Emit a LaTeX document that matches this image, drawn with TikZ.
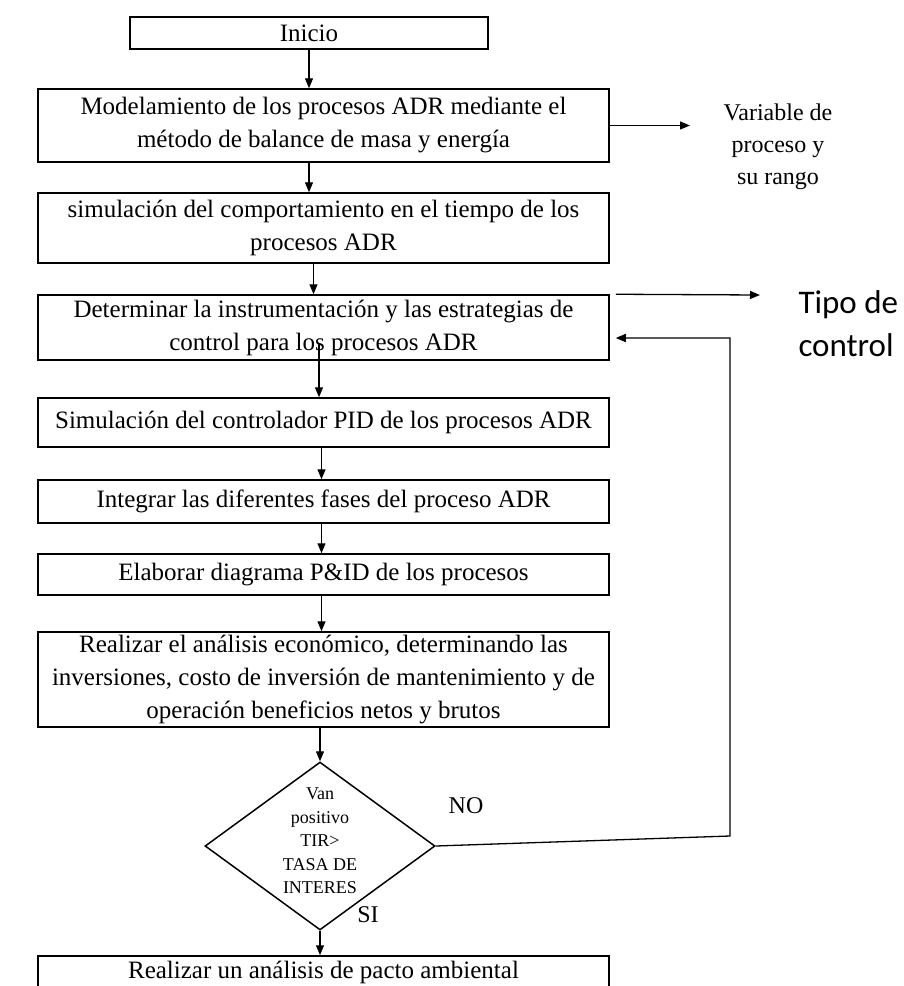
\documentclass[tikz,border=0pt]{standalone}
\usepackage{fontspec}
\setmainfont{Liberation Serif}
\newfontfamily\calibrifont{Carlito}
\usetikzlibrary{arrows.meta,shapes.geometric}

\begin{document}
\begin{tikzpicture}[x=1pt,y=-1pt,
  stepbox/.style={draw, line width=1.5pt, rectangle, inner sep=0pt, align=center,
    minimum width=571pt, font=\fontsize{25}{33}\selectfont},
  arr/.style={line width=1.3pt, -{Triangle[length=10pt,width=8pt]}},
  sidetext/.style={align=center, font=\fontsize{24}{32}\selectfont},
  answer/.style={font=\fontsize{24}{28}\selectfont}
]
\useasboundingbox (0,0) rectangle (903,986);

% main sequence of steps
\node[stepbox, minimum width=358pt, minimum height=32pt] (inicio) at (309,33) {Inicio};
\node[stepbox, minimum height=73pt] (b2) at (323.5,125.5)
  {Modelamiento de los procesos ADR mediante el\\método de balance de masa y energía};
\node[stepbox, minimum height=70pt] (b3) at (323.5,228)
  {simulación del comportamiento en el tiempo de los\\procesos ADR};
\node[stepbox, minimum height=65pt] (b4) at (323.5,327.5)
  {Determinar la instrumentación y las estrategias de\\control para los procesos ADR};
\node[stepbox, minimum height=49pt] (b5) at (323.5,422.5)
  {Simulación del controlador PID de los procesos ADR};
\node[stepbox, minimum height=43pt] (b6) at (323.5,501.5)
  {Integrar las diferentes fases del proceso ADR};
\node[stepbox, minimum height=41pt] (b7) at (323.5,574.5)
  {Elaborar diagrama P\&ID de los procesos};
\node[stepbox, minimum height=95pt] (b8) at (323.5,679.5)
  {Realizar el análisis económico, determinando las\\inversiones, costo de inversión de mantenimiento y de\\operación beneficios netos y brutos};

% decision
\node[diamond, draw, line width=1.5pt, minimum width=230pt, minimum height=168pt, inner sep=0pt,
  label={[align=center, yshift=5pt, font=\fontsize{18}{23.5}\selectfont]center:{Van\\positivo\\TIR>\\TASA DE\\INTERES}}]
  (dia) at (320,846) {};

% last step, its lower edge runs past the page
\node[stepbox, minimum height=32pt] (b9) at (323.5,972)
  {Realizar un análisis de pacto ambiental};

% side outputs
\node[sidetext] (vardp) at (778,147) {Variable de\\proceso y\\su rango};
\node[anchor=west, align=left, font=\calibrifont\fontsize{33}{43}\selectfont] (tipo) at (795,324) {Tipo de\\control};

\node[answer] (no) at (466,806) {NO};
\node[answer] (si) at (368,915) {SI};

% connectors
\coordinate (varend) at (690,125.5);
\coordinate (tipoend) at (760,295);
\coordinate (fb1) at (730,836);
\coordinate (fb2) at (730,338);

\draw[arr] (inicio.south) -- (inicio.south |- b2.north);
\draw[arr] (inicio.south |- b2.south) -- (inicio.south |- b3.north);
\draw[arr] ([xshift=-10pt]b3.south) -- ([xshift=-10pt]b4.north);
\draw[arr] ([xshift=-4.5pt,yshift=18pt]b4.south) -- ([xshift=-4.5pt]b5.north);
\draw[arr] ([xshift=-2pt]b5.south) -- ([xshift=-2pt]b6.north);
\draw[arr] ([xshift=-2pt]b6.south) -- ([xshift=-2pt]b7.north);
\draw[arr] ([xshift=-2pt]b7.south) -- ([xshift=-2pt]b8.north);
\draw[arr] (dia.north |- b8.south) -- (dia.north);
\draw[arr] (dia.south) -- (dia.south |- b9.north);

\draw[arr] (b2.east) -- (varend);
\draw[arr] ([xshift=6pt]b4.north east) -- (tipoend);
\draw[arr, shorten >=6pt] (dia.east) -- (fb1) -- (fb2) -- (fb2 -| b4.east);
\end{tikzpicture}
\end{document}
